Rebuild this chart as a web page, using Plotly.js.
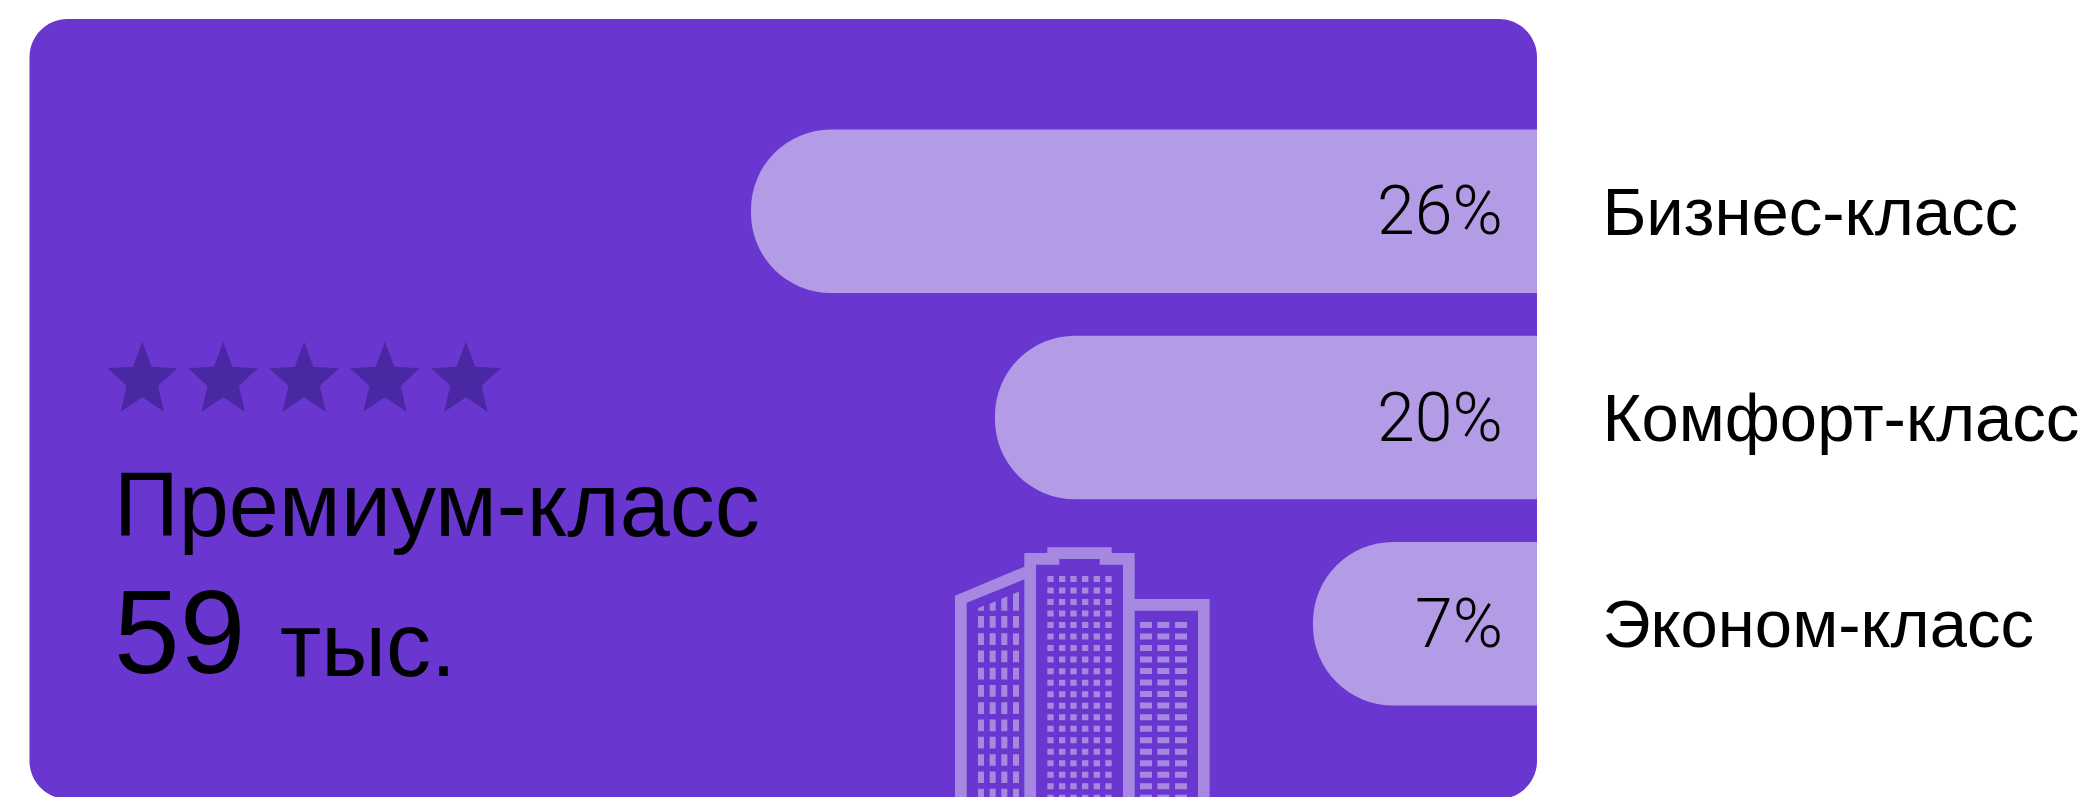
<!DOCTYPE html>
<html><head><meta charset="utf-8">
<script src="https://cdn.plot.ly/plotly-3.0.1.min.js"></script>
<style>html,body{margin:0;padding:0;background:#fff;overflow:hidden}#c{width:2095px;height:797px}</style>
</head><body><div id="c"></div>
<script>
const categories = ["Бизнес-класс", "Комфорт-класс", "Эконом-класс"];
const valueLabels = ["26%", "20%", "7%"];
// Drawn bar lengths (the source's bars are not strictly proportional to the labels)
const barLengths = [26, 17.93, 7.41];
const headline = "Премиум-класс";
const totalNumber = "59";
const totalUnit = "тыс.";
const starCount = 5;

const W = 2095, H = 797;
const CARD = "#6937cf", BAR = "#b39ce5", BLD = "#a688e0", STAR = "#4a27a3";
const fx = x => (x / W).toFixed(5), fy = y => ((H - y) / H).toFixed(5);
const P = (x, y) => fx(x) + "," + fy(y);
const poly = pts => "M" + pts.map(p => P(p[0], p[1])).join("L") + "Z";
const shape = (path, color) => ({type: "path", xref: "paper", yref: "paper", layer: "below", path, fillcolor: color, line: {width: 0}});

// Card
const L = 29.5, R = 1537, T = 19, B = 799, r = 38, k = r * 0.45;
const cardPath = "M" + P(L + r, T) + "L" + P(R - r, T) + "C" + P(R - k, T) + " " + P(R, T + k) + " " + P(R, T + r) +
  "L" + P(R, B - r) + "C" + P(R, B - k) + " " + P(R - k, B) + " " + P(R - r, B) +
  "L" + P(L + r, B) + "C" + P(L + k, B) + " " + P(L, B - k) + " " + P(L, B - r) +
  "L" + P(L, T + r) + "C" + P(L, T + k) + " " + P(L + k, T) + " " + P(L + r, T) + "Z";
const shapes = [shape(cardPath, CARD)];

// Stars
const starOutline = [[0,-80],[28,-5],[105,0],[47,52],[65,130],[0,87],[-65,130],[-47,52],[-105,0],[-28,-5]];
for (let i = 0; i < starCount; i++) {
  const cx = 142.3 + i * 80.9, cy = 368.3;
  shapes.push(shape(poly(starOutline.map(p => [cx + p[0] / 3, cy + p[1] / 3])), STAR));
}

// Building icon
const bx = X => 930 + X / 3, by = Y => 530 + Y / 3;
const bp = pts => poly(pts.map(p => [bx(p[0]), by(p[1])]));
const rect = (x0, y0, x1, y1) => bp([[x0,y0],[x1,y0],[x1,y1],[x0,y1]]);
const E = 802;
shapes.push(shape(bp([[75,197],[283,110],[283,69],[352,69],[352,52],[545,52],[545,69],[614,69],[614,207],[839,207],[839,E],[75,E]]), BLD));
shapes.push(shape(bp([[110,218],[283,148],[283,E],[110,E]]), CARD));
shapes.push(shape(bp([[318,104],[388,104],[388,87],[509,87],[509,104],[579,104],[579,E],[318,E]]), CARD));
shapes.push(shape(bp([[614,242],[804,242],[804,E],[614,E]]), CARD));
let win = "";
[144,179,214,249].forEach((x, i) => {
  const top = [234,221,206,192][i];
  win += bp([[x,top],[x+18,top-7],[x+18,242],[x,242]]);
  for (let y = 258; y < E; y += 51.8) win += rect(x, y, x + 18, Math.min(y + 35, E));
});
[352,387,421,456,491,526].forEach(x => {
  for (let y = 138; y < E; y += 34.55) win += rect(x, y, x + 19, Math.min(y + 18, E));
});
[630,682,735].forEach(x => {
  for (let y = 276; y < E; y += 34.55) win += rect(x, y, x + 36, Math.min(y + 18, E));
});
shapes.push(shape(win, BLD));

const pxPerUnit = 786 / 26;
const font = "Liberation Sans, Arial, sans-serif";
const annotations = valueLabels.map((t, i) => ({
  xref: "x", yref: "y", x: 0, y: categories[i], text: t, showarrow: false,
  xanchor: "right", yanchor: "middle", xshift: -33, borderpad: 0,
  font: {family: "Roboto, sans-serif", size: 68, weight: 300, color: "#000"}
}));
const textAnn = (text, x, y, size) => ({
  xref: "paper", yref: "paper", x: x / W, y: (H - y) / H, text, showarrow: false,
  xanchor: "left", yanchor: "middle", borderpad: 0, font: {family: font, size, color: "#000"}
});
annotations.push(textAnn(headline, 113, 505, 90));
annotations.push(textAnn(totalNumber, 113, 632, 118));
annotations.push(textAnn(totalUnit, 279, 645, 90));

Plotly.newPlot("c", [{
  type: "bar", orientation: "h", x: barLengths, y: categories,
  marker: {color: BAR, cornerradius: 80, line: {width: 0}},
  hoverinfo: "y+text", text: valueLabels, textposition: "none"
}], {
  width: W, height: H, margin: {l: 0, r: 0, t: 0, b: 0},
  paper_bgcolor: "#fff", plot_bgcolor: "rgba(0,0,0,0)",
  bargap: 0.207, showlegend: false,
  xaxis: {domain: [0, R / W], range: [R / pxPerUnit, 0], visible: false, fixedrange: true},
  yaxis: {
    type: "category", side: "right", anchor: "x", categoryorder: "array", categoryarray: categories,
    domain: [(H - 726.9) / H, (H - 108.2) / H], range: [2.5, -0.5],
    ticks: "outside", ticklen: 51, tickcolor: "rgba(0,0,0,0)", showline: false, showgrid: false, zeroline: false,
    tickfont: {family: font, size: 67, color: "#000"}, automargin: false, fixedrange: true
  },
  shapes, annotations
}, {displayModeBar: false, staticPlot: true});
</script></body></html>
